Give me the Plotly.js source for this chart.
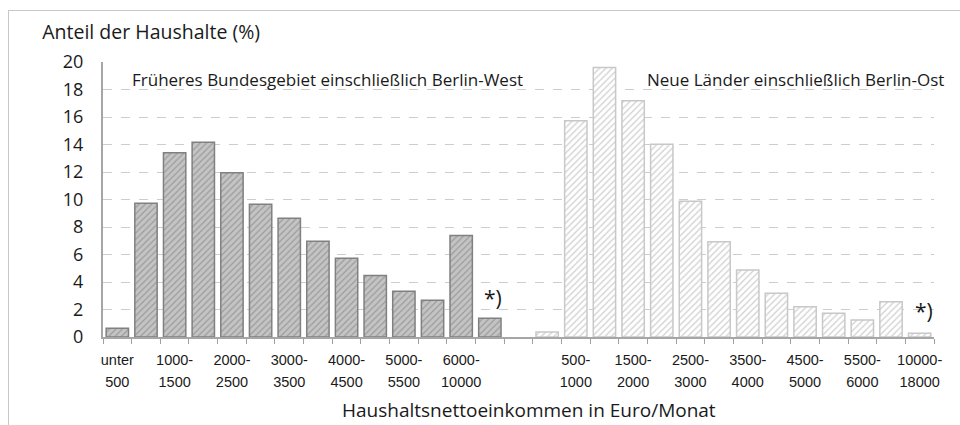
<!DOCTYPE html>
<html>
<head>
<meta charset="utf-8">
<script src="https://cdn.plot.ly/plotly-3.0.1.min.js"></script>
<style>
  html, body { margin: 0; padding: 0; background: #ffffff; }
  #wrap { position: relative; width: 960px; height: 425px; }
  #frame { position: absolute; left: 8px; top: 10px; width: 960px; height: 430px;
           border-left: 1.5px solid #c8c8c8; border-top: 1.5px solid #c8c8c8; box-sizing: border-box; }
  #chart { position: absolute; left: 0; top: 0; width: 960px; height: 425px; }
</style>
</head>
<body>
<div id="wrap"><div id="frame"></div><div id="chart"></div></div>
<script>
// Income classes (EUR / month)
const incomeClasses = ["unter 500", "500-1000", "1000-1500", "1500-2000", "2000-2500", "2500-3000",
  "3000-3500", "3500-4000", "4000-4500", "4500-5000", "5000-5500", "5500-6000", "6000-10000", "10000-18000"];
// Share of households (%) – Früheres Bundesgebiet einschließlich Berlin-West
const westShare = [0.63, 9.72, 13.4, 14.16, 11.95, 9.65, 8.63, 6.96, 5.72, 4.48, 3.32, 2.67, 7.39, 1.36];
// Share of households (%) – Neue Länder einschließlich Berlin-Ost
const eastShare = [0.36, 15.73, 19.6, 17.19, 14.01, 9.87, 6.93, 4.87, 3.18, 2.2, 1.72, 1.24, 2.57, 0.27];
// Labelled tick classes (first and second label line)
const westTickTop = ["unter", "1000-", "2000-", "3000-", "4000-", "5000-", "6000-"];
const westTickBottom = ["500", "1500", "2500", "3500", "4500", "5500", "10000"];
const eastTickTop = ["500-", "1500-", "2500-", "3500-", "4500-", "5500-", "10000-"];
const eastTickBottom = ["1000", "2000", "3000", "4000", "5000", "6000", "18000"];
const westLabel = "Früheres Bundesgebiet einschließlich Berlin-West";
const eastLabel = "Neue Länder einschließlich Berlin-Ost";
const yTitle = "Anteil der Haushalte (%)";
const xTitle = "Haushaltsnettoeinkommen in Euro/Monat";

const n = incomeClasses.length;
const gap = 1;
const westX = incomeClasses.map((_, i) => i);
const eastX = incomeClasses.map((_, i) => i + n + gap);
const total = 2 * n + gap;

const westTickPos = westX.filter((_, i) => i % 2 === 0);
const eastTickPos = eastX.filter((_, i) => i % 2 === 1);
const boundaries = Array.from({length: total + 1}, (_, k) => k - 0.5);

const txt = "#1a1a1a";

const traces = [
  {
    type: "bar", x: westX, y: westShare, width: 0.78, name: westLabel,
    text: incomeClasses, hoverinfo: "text+y", textposition: "none",
    marker: {
      color: "#c2c2c2",
      line: {color: "#808080", width: 1.5},
      pattern: {shape: "/", fgcolor: "#9c9c9c", bgcolor: "#c4c4c4", size: 4.5, solidity: 0.28}
    }
  },
  {
    type: "bar", x: eastX, y: eastShare, width: 0.78, name: eastLabel,
    text: incomeClasses, hoverinfo: "text+y", textposition: "none",
    marker: {
      color: "#ffffff",
      line: {color: "#c8c8c8", width: 1.5},
      pattern: {shape: "/", fgcolor: "#d2d2d2", bgcolor: "#ffffff", size: 4.5, solidity: 0.3}
    }
  },
  {type: "scatter", mode: "markers", x: [0], y: [0], xaxis: "x2",
   marker: {opacity: 0}, hoverinfo: "skip", showlegend: false},
  {type: "scatter", mode: "markers", x: [0], y: [0], xaxis: "x3",
   marker: {opacity: 0}, hoverinfo: "skip", showlegend: false}
];

const labelAxis = (texts, standoff) => ({
  overlaying: "x", anchor: "y", side: "bottom",
  range: [-0.5, total - 0.5],
  tickmode: "array",
  tickvals: westTickPos.concat(eastTickPos),
  ticktext: texts,
  ticks: "", showgrid: false, zeroline: false, showline: false,
  ticklabelstandoff: standoff,
  tickfont: {family: "Liberation Sans", size: 14.5, color: txt}
});

const layout = {
  width: 960, height: 425,
  margin: {l: 103, r: 26, t: 62, b: 88},
  paper_bgcolor: "rgba(0,0,0,0)",
  plot_bgcolor: "rgba(0,0,0,0)",
  showlegend: false,
  bargap: 0,
  title: {
    text: yTitle,
    x: 0.044, xanchor: "left", xref: "container",
    y: 0.925, yanchor: "middle", yref: "container",
    font: {family: "Open Sans", size: 19.5, color: txt}
  },
  xaxis: {
    range: [-0.5, total - 0.5],
    tickmode: "array", tickvals: boundaries, showticklabels: false,
    ticks: "outside", ticklen: 5, tickcolor: "#a0a0a0", tickwidth: 1,
    showgrid: false, zeroline: false,
    showline: true, linecolor: "#a6a6a6", linewidth: 2
  },
  xaxis2: labelAxis(westTickTop.concat(eastTickTop), 12),
  xaxis3: labelAxis(westTickBottom.concat(eastTickBottom), 34),
  yaxis: {
    range: [0, 20], dtick: 2, tick0: 0,
    showgrid: true, gridcolor: "#cdcdcd", griddash: "dash", gridwidth: 1,
    zeroline: false,
    showline: true, linecolor: "#a6a6a6", linewidth: 2,
    ticks: "", ticklabelstandoff: 14,
    tickfont: {family: "Open Sans", size: 18, color: txt}
  },
  annotations: [
    {xref: "paper", yref: "paper", x: 0.513, y: -0.265, xanchor: "center", yanchor: "middle",
     text: xTitle, showarrow: false, font: {family: "Open Sans", size: 19, color: txt}},
    {xref: "x", yref: "y", x: westX[0] + 0.45, y: 18.7, xanchor: "left", yanchor: "middle",
     text: westLabel, showarrow: false, font: {family: "Open Sans", size: 17, color: txt}},
    {xref: "paper", yref: "y", x: 1.0145, y: 18.7, xanchor: "right", yanchor: "middle",
     text: eastLabel, showarrow: false, font: {family: "Open Sans", size: 17, color: txt}},
    {xref: "x", yref: "y", x: westX[n - 1] + 0.1, y: 2.85, xanchor: "center", yanchor: "middle",
     text: "*)", showarrow: false, font: {family: "Open Sans", size: 21, color: txt}},
    {xref: "x", yref: "y", x: eastX[n - 1] + 0.15, y: 1.9, xanchor: "center", yanchor: "middle",
     text: "*)", showarrow: false, font: {family: "Open Sans", size: 21, color: txt}}
  ]
};

Plotly.newPlot("chart", traces, layout, {staticPlot: true, displayModeBar: false});
</script>
</body>
</html>
